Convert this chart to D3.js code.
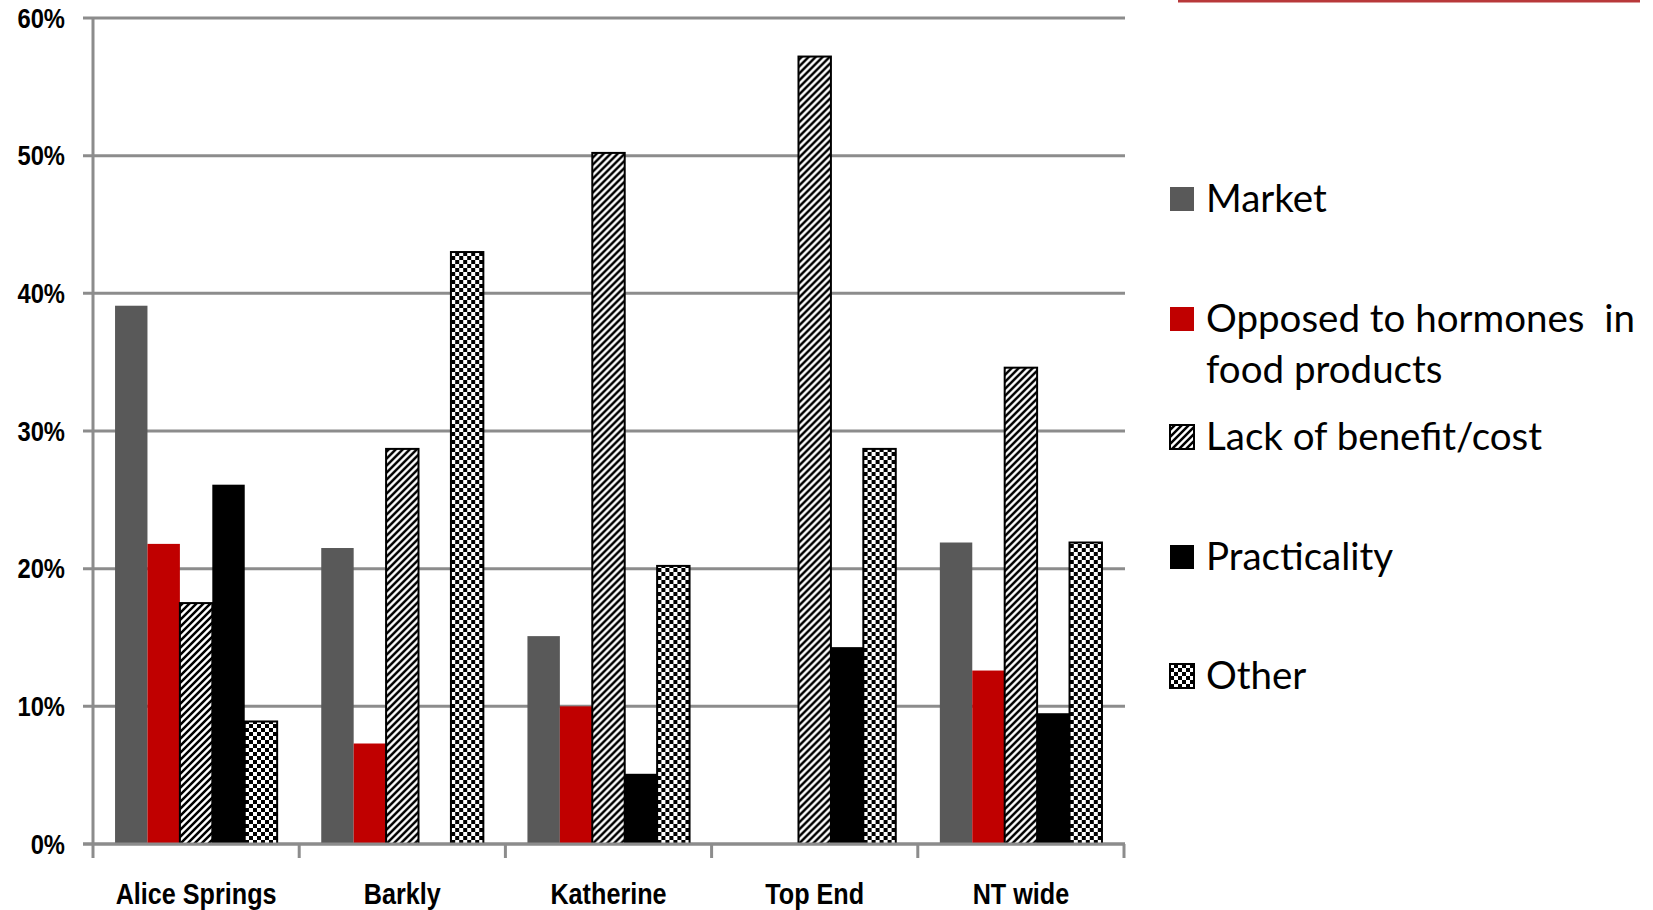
<!DOCTYPE html>
<html>
<head>
<meta charset="utf-8">
<script src="https://cdn.jsdelivr.net/npm/d3@7"></script>
<style>
  html, body { margin: 0; padding: 0; background: #fff; }
  svg { display: block; }
</style>
</head>
<body>
<div id="chart"></div>
<script>
const regions = ["Alice Springs", "Barkly", "Katherine", "Top End", "NT wide"];
const reasons = ["Market", "Opposed to hormones  in food products", "Lack of benefit/cost", "Practicality", "Other"];
const legendLines = [["Market"], ["Opposed to hormones  in", "food products"], ["Lack of benefit/cost"], ["Practicality"], ["Other"]];

// percent of respondents, one array per reason (same order as regions)
const market       = [39.1, 21.5, 15.1, 0,    21.9];
const hormones     = [21.8, 7.3,  10.0, 0,    12.6];
const lackBenefit  = [17.5, 28.7, 50.2, 57.2, 34.6];
const practicality = [26.1, 0,    5.1,  14.3, 9.5];
const other        = [8.9,  43.0, 20.2, 28.7, 21.9];

const yTicks = [0, 10, 20, 30, 40, 50, 60];

const series = [market, hormones, lackBenefit, practicality, other];
const fills = ["#595959", "#c00000", "url(#hatch)", "#000000", "url(#checker)"];
const outlined = [false, false, true, false, true];

const width = 1653, height = 910;

const svg = d3.select("#chart").append("svg")
    .attr("width", width)
    .attr("height", height);

// patterns
const defs = svg.append("defs");
const hatch = defs.append("pattern")
    .attr("id", "hatch")
    .attr("patternUnits", "userSpaceOnUse")
    .attr("width", 7).attr("height", 7);
hatch.append("rect").attr("width", 7).attr("height", 7).attr("fill", "#fff");
hatch.append("path")
    .attr("d", "M-2,2 L2,-2 M0,7 L7,0 M5,9 L9,5")
    .attr("stroke", "#000")
    .attr("stroke-width", 2.5);

const checker = defs.append("pattern")
    .attr("id", "checker")
    .attr("patternUnits", "userSpaceOnUse")
    .attr("width", 8).attr("height", 8);
checker.append("rect").attr("width", 8).attr("height", 8).attr("fill", "#fff");
checker.append("rect").attr("width", 4).attr("height", 4).attr("fill", "#000");
checker.append("rect").attr("x", 4).attr("y", 4).attr("width", 4).attr("height", 4).attr("fill", "#000");

// slide header remnant
svg.append("rect")
    .attr("x", 1178).attr("y", 0)
    .attr("width", 462).attr("height", 2.5)
    .attr("fill", "#b8383a");

const plotLeft = 93, plotRight = 1124, plotTop = 18, plotBottom = 844;

const y = d3.scaleLinear()
    .domain([0, 60])
    .range([plotBottom, plotTop]);

const x0 = d3.scaleBand()
    .domain(regions)
    .range([plotLeft, plotRight]);

const x1 = d3.scaleBand()
    .domain(d3.range(series.length))
    .range([0, x0.bandwidth()])
    .paddingInner(0)
    .paddingOuter(0.68);

const gridColor = "#8c8c8c";
const labelFont = "'Liberation Sans', Arial, sans-serif";

// gridlines + y labels
const yg = svg.append("g");
yg.selectAll("line")
    .data(yTicks)
    .join("line")
    .attr("x1", plotLeft - 10)
    .attr("x2", plotRight + 1)
    .attr("y1", d => y(d))
    .attr("y2", d => y(d))
    .attr("stroke", gridColor)
    .attr("stroke-width", 3);

yg.selectAll("text")
    .data(yTicks)
    .join("text")
    .attr("transform", d => `translate(65,${y(d)}) scale(0.88,1)`)
    .attr("dy", "0.36em")
    .attr("text-anchor", "end")
    .attr("font-family", labelFont)
    .attr("font-weight", "bold")
    .attr("font-size", 27)
    .attr("fill", "#000")
    .text(d => d + "%");

// y axis line
svg.append("line")
    .attr("x1", plotLeft).attr("x2", plotLeft)
    .attr("y1", plotTop).attr("y2", plotBottom)
    .attr("stroke", gridColor)
    .attr("stroke-width", 3);

// bars
const groups = svg.append("g")
    .selectAll("g")
    .data(regions)
    .join("g")
    .attr("transform", d => `translate(${x0(d)},0)`);

groups.selectAll("rect")
    .data((d, i) => series.map((s, j) => ({ j, v: s[i] })).filter(e => e.v > 0))
    .join("rect")
    .attr("x", d => x1(d.j))
    .attr("width", x1.bandwidth())
    .attr("y", d => y(d.v))
    .attr("height", d => y(0) - y(d.v))
    .attr("fill", d => fills[d.j])
    .attr("stroke", d => outlined[d.j] ? "#000" : "none")
    .attr("stroke-width", 2);

// x axis baseline and category ticks
svg.append("line")
    .attr("x1", plotLeft - 10).attr("x2", plotRight + 1)
    .attr("y1", plotBottom).attr("y2", plotBottom)
    .attr("stroke", gridColor)
    .attr("stroke-width", 3);

const tickPos = regions.map(r => x0(r)).concat([plotRight]);
svg.append("g")
    .selectAll("line")
    .data(tickPos)
    .join("line")
    .attr("x1", d => d).attr("x2", d => d)
    .attr("y1", plotBottom).attr("y2", plotBottom + 14)
    .attr("stroke", gridColor)
    .attr("stroke-width", 3);

svg.append("g")
    .selectAll("text")
    .data(regions)
    .join("text")
    .attr("transform", d => `translate(${x0(d) + x0.bandwidth() / 2},904) scale(0.84,1)`)
    .attr("text-anchor", "middle")
    .attr("font-family", labelFont)
    .attr("font-weight", "bold")
    .attr("font-size", 30)
    .attr("fill", "#000")
    .text(d => d);

// legend
const legendY = [199, 319, 437, 557, 676];
const legend = svg.append("g")
    .selectAll("g")
    .data(reasons)
    .join("g")
    .attr("transform", (d, i) => `translate(1170,${legendY[i]})`);

legend.append("rect")
    .attr("x", 0)
    .attr("y", -12)
    .attr("width", 24)
    .attr("height", 24)
    .attr("fill", (d, i) => fills[i])
    .attr("stroke", (d, i) => outlined[i] ? "#000" : "none")
    .attr("stroke-width", 2);

legend.append("text")
    .attr("x", 36)
    .attr("y", 13)
    .attr("font-family", "Lato, 'Open Sans', sans-serif")
    .attr("font-size", 38.5)
    .attr("fill", "#000")
    .selectAll("tspan")
    .data((d, i) => legendLines[i])
    .join("tspan")
    .attr("x", 36)
    .attr("dy", (d, k) => k === 0 ? 0 : 51)
    .attr("xml:space", "preserve")
    .style("white-space", "pre")
    .text(d => d);
</script>
</body>
</html>
